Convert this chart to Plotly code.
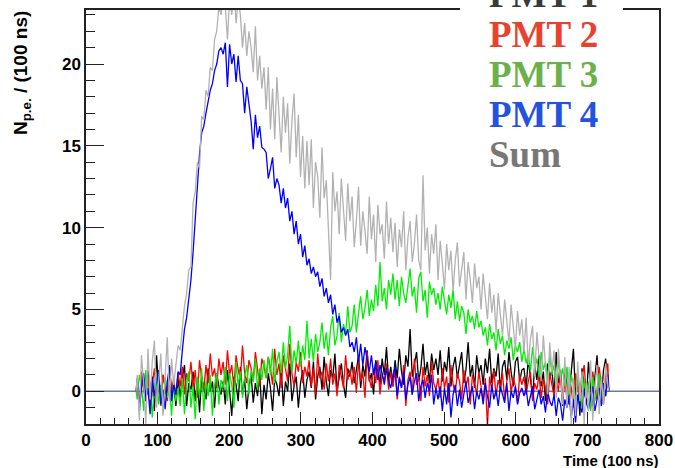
import numpy as np
import plotly.graph_objects as go

# Bin edges of the waveform histograms (time in units of 100 ns, 3-unit bins)
edges = list(range(70, 731, 3))

pmt1 = [
    0.4, -1.0, 0.9, 0.2, -0.6, 1.3, -0.3, 0.6, -1.2, 2.2, 0.1, -0.7, 1.0, 0.3, -0.5, 1.6, -0.2, 0.5, -0.9, 0.8,
    -0.4, 0.8, 1.6, -0.9, 0.5, 0.1, 1.2, -0.6, 0.7, -1.3, 0.9, 0.2, -0.5, 1.4, 0.0, 0.6, -1.0, 1.1, 0.3, -0.2,
    0.6, -0.8, 1.3, 0.0, -1.5, 0.9, 0.4, -0.6, 1.5, -0.2, 0.7, -1.1, 0.3, 1.0, -0.7, 0.5, -0.3, 1.2, -1.4, 0.4,
    -0.5, 1.1, 0.2, -1.2, 0.8, 0.4, -0.3, 1.4, -0.9, 0.6, 0.0, 1.7, -0.6, 0.3, 0.9, -1.0, 0.5, 1.3, -0.4, 0.7,
    1.2, 0.2, 1.8, -0.5, 0.9, 1.5, 0.1, 2.1, 0.6, -0.3, 1.3, 0.8, 2.3, 0.0, 1.0, 1.7, 0.4, -0.4, 1.4, 0.9,
    1.8, 0.5, 1.3, 2.2, 0.2, 1.6, 0.9, 2.5, 0.6, 1.1, -0.2, 1.9, 1.3, 0.4, 2.0, 1.0, 2.7, 0.7, 1.5, 0.3,
    1.9, 0.8, 2.6, 1.2, 0.4, 2.2, 1.5, 3.8, 0.9, 1.7, 2.4, 0.6, 1.4, 2.9, 1.0, 1.8, 0.5, 2.3, 1.3, 2.0,
    1.0, 2.5, 0.6, 1.8, 1.2, 2.7, 0.3, 1.5, 2.1, 0.8, 1.7, 2.4, 0.5, 1.3, 3.0, 0.9, 1.6, 0.2, 2.2, 1.1,
    1.6, 0.4, 2.0, 1.1, 2.6, 0.5, 1.4, 0.9, 2.3, 0.0, 1.5, 1.9, 0.7, 2.4, 1.2, 0.3, 1.8, 2.1, 0.6, 1.3,
    1.4, 0.2, 2.0, 0.9, -0.4, 1.6, 0.7, 2.2, 0.3, 1.2, -0.6, 1.7, 0.8, 1.3, -0.2, 2.4, 0.5, 1.0, -0.9, 1.5,
    0.3, -0.8, 1.2, 2.6, -0.3, 0.7, -1.5, 1.4, 0.2, -0.7, 1.8, 0.5, -1.2, 0.9, 2.2, 0.0, -0.5, 1.3, 2.0, 0.6,
]

pmt2 = [
    0.6, -0.8, 1.2, 0.1, -0.5, 0.9, -1.0, 0.4, 1.4, -0.3, 0.7, -0.9, 1.0, 0.2, -0.6, 1.5, 0.0, 0.8, -0.4, 1.1,
    0.3, 1.5, -0.2, 1.1, 0.6, 1.8, 0.2, 1.3, -0.4, 1.9, 0.8, 0.1, 1.6, 0.5, 2.3, 0.9, 1.4, 0.2, 2.0, 1.0,
    1.8, 0.4, 2.5, 1.0, 1.6, 0.2, 2.2, 1.3, 0.7, 2.8, 1.1, 0.5, 1.9, 1.4, 0.6, 2.4, 1.2, 0.3, 2.0, 1.5,
    0.8, 2.1, 1.4, 0.4, 2.6, 1.0, 1.7, 0.2, 2.2, 1.3, 0.6, 2.9, 1.1, 0.3, 1.8, 1.2, 2.4, 0.5, 1.5, 0.9,
    1.9, 0.3, 1.4, -0.2, 2.3, 0.8, 1.2, 0.1, 1.7, 0.6, 2.0, 0.4, 1.1, -0.3, 1.6, 0.9, 0.2, 2.2, 0.7, 1.3,
    0.4, 1.5, -0.1, 1.8, 0.6, 1.1, -0.4, 2.4, 0.8, 0.2, 1.4, 0.5, 1.9, -0.2, 1.0, 0.6, 1.7, 0.1, 1.2, 0.3,
    1.3, -0.5, 0.9, 0.2, 1.6, -0.9, 0.7, 1.2, -0.2, 2.0, 0.4, 0.9, -0.6, 1.5, 0.3, 1.0, -0.3, 1.8, 0.5, 0.1,
    0.8, -0.4, 1.4, 0.2, 0.9, -0.7, 1.6, 0.4, -0.1, 1.1, 0.6, -0.5, 1.3, 0.3, 0.9, -0.8, 1.0, 0.5, -0.2, 1.2,
    0.3, -0.6, 0.8, -2.2, 0.9, 0.1, 1.3, -0.3, 0.7, 0.2, 1.1, -0.5, 0.6, 1.4, -0.1, 0.8, 0.3, -0.7, 1.0, 0.4,
    0.9, -0.2, 0.6, 1.2, -0.6, 0.5, 0.1, 1.0, -0.4, 0.7, 0.2, -0.8, 1.1, 0.4, -0.3, 0.8, 0.0, 1.3, -0.5, 0.6,
    -0.4, 0.9, 0.2, -1.0, 1.1, 0.3, -0.6, 0.8, 1.6, -0.2, 0.5, -0.9, 1.2, 0.1, -0.5, 1.5, 0.4, -0.8, 0.9, 1.7,
]

pmt3 = [
    -0.5, 1.0, 0.3, -1.2, 1.3, -0.2, 0.6, -1.6, 0.2, 1.1, -0.8, 0.4, -1.3, 0.9, -0.4, 0.3, -1.5, 0.7, -0.6, 0.2,
    -0.9, 0.8, -1.4, 0.5, 1.2, -1.0, 0.3, -1.7, 0.9, -0.4, 1.4, -1.2, 0.6, -0.3, 1.0, -1.5, 0.4, 1.1, -0.8, 0.7,
    0.2, 1.5, -0.6, 1.1, 0.4, -1.0, 1.8, 0.3, 1.2, -0.4, 0.9, 1.6, -0.2, 1.3, 0.6, 2.0, 0.1, 1.4, 0.7, 1.9,
    0.8, 2.1, 1.0, 2.6, 0.5, 1.8, 2.4, 1.1, 3.0, 1.4, 2.2, 4.0, 1.2, 2.5, 1.7, 3.1, 1.5, 2.8, 1.9, 4.3,
    2.0, 3.2, 1.8, 3.5, 2.4, 3.0, 4.2, 2.6, 3.6, 2.2, 3.9, 4.6, 2.8, 3.4, 4.8, 3.0, 4.1, 3.5, 5.2, 3.6,
    4.0, 5.3, 3.6, 4.8, 5.8, 4.4, 5.1, 6.2, 4.6, 5.6, 4.9, 6.5, 5.2, 7.9, 5.5, 6.3, 5.0, 6.8, 5.9, 7.2,
    5.6, 6.8, 5.2, 7.0, 6.0, 5.4, 6.6, 7.5, 5.8, 6.4, 4.8, 6.9, 7.3, 5.5, 6.2, 4.5, 6.7, 5.9, 6.3, 5.3,
    6.0, 5.0, 6.4, 5.4, 4.7, 5.9, 5.1, 6.2, 4.4, 5.5, 4.3, 5.2, 4.8, 3.5, 5.0, 4.2, 4.6, 3.8, 4.9, 3.9,
    4.3, 3.4, 3.9, 2.8, 4.1, 3.2, 3.6, 2.5, 3.8, 2.9, 3.4, 2.2, 3.1, 2.6, 3.3, 1.9, 2.8, 2.4, 3.0, 1.8,
    2.6, 1.7, 2.3, 1.2, 2.7, 1.5, 2.0, 0.9, 2.4, 1.3, 1.8, 0.7, 2.2, 1.0, 1.6, 0.4, 1.9, 0.8, 1.4, 0.3,
    1.5, -0.2, 1.0, 0.4, -0.8, 1.2, 0.1, -1.0, 0.8, -0.4, 0.6, -1.2, 0.9, -0.6, 0.2, 1.1, -0.9, 0.5, -0.3, 0.7,
]

pmt4 = [
    0.8, -1.2, 0.3, 1.1, -0.5, 0.2, -1.4, 0.9, -0.3, 0.5, 1.3, -0.8, 0.1, -1.1, 0.6, 1.5, -0.6, 0.4, -0.2, 1.2,
    1.0, 2.5, 3.8, 4.5, 5.6, 6.8, 8.5, 10.5, 13.0, 14.5, 15.8, 16.2, 17.0, 17.8, 18.4, 18.8, 19.6, 20.0, 20.8, 21.0,
    20.6, 21.3, 18.6, 21.2, 20.0, 20.6, 18.9, 20.5, 19.0, 18.8, 17.0, 18.6, 17.4, 16.5, 14.8, 16.9, 15.5, 16.2, 14.9, 14.8,
    14.6, 13.0, 13.6, 14.3, 12.4, 13.0, 12.6, 11.5, 12.4, 11.2, 11.8, 10.4, 11.0, 9.6, 10.4, 9.0, 9.6, 8.2, 8.9, 7.7,
    8.1, 7.2, 7.6, 7.0, 7.3, 6.4, 6.9, 5.8, 6.3, 5.4, 5.9, 4.7, 5.3, 4.2, 4.6, 3.6, 3.9, 3.4, 3.8, 2.7,
    3.0, 2.4, 3.3, 1.8, 2.9, 1.6, 2.7, 2.0, 1.2, 2.2, 1.0, 1.8, 0.7, 1.6, 1.1, 0.4, 1.4, 0.6, 0.2, 1.0,
    1.5, -0.3, 0.8, 0.2, 1.2, -0.5, 0.4, 0.9, -0.2, 0.6, 1.1, -0.6, 0.3, 0.7, -0.4, 0.5, 0.0, 1.0, -0.8, 0.2,
    -0.5, 0.3, -1.2, 0.2, -0.8, 0.5, -1.6, -0.2, 0.4, -0.9, 0.1, -1.0, -0.3, 0.6, -0.7, -0.2, 0.3, -1.1, 0.0, -0.5,
    0.2, -0.8, 0.5, -0.3, -1.0, 0.4, -0.5, 0.1, -0.9, 0.3, -0.2, -0.7, 0.5, -1.2, 0.0, -0.4, 0.3, -0.8, -0.1, 0.2,
    -0.3, 0.2, -0.9, -0.2, 0.3, -1.1, -0.5, 0.1, -0.8, -0.3, -1.3, 0.0, -0.6, -0.9, -0.2, -1.5, -0.4, -0.8, -1.8, -0.5,
    -1.0, -0.3, -1.6, -0.5, -1.9, -0.2, -0.9, -1.3, 0.1, -0.7, -1.1, -0.4, 0.3, -1.2, -0.6, 0.2, -0.9, 0.5, -0.3, 1.0,
]

pmt_sum = [
    1.0, -1.8, 2.2, 0.5, -2.0, 2.6, -0.5, 1.8, 3.1, -1.0, 0.8, 2.3, -1.5, 1.2, 3.3, -0.6, 2.0, 0.4, 1.5, 2.8,
    2.5, 4.0, 5.2, 6.0, 7.4, 7.6, 11.5, 12.2, 14.0, 13.6, 16.8, 16.6, 18.4, 18.0, 19.8, 19.6, 21.5, 22.0, 23.5, 23.0,
    24.0, 23.5, 21.5, 24.0, 23.0, 24.5, 22.5, 24.0, 23.0, 21.0, 22.5, 20.5, 22.0, 21.0, 19.5, 22.3, 19.0, 20.5, 18.5, 19.8,
    17.2, 19.8, 16.0, 18.5, 15.4, 19.2, 16.8, 14.6, 18.0, 15.8, 17.6, 13.9, 16.5, 18.2, 14.3, 16.9, 13.1, 15.6, 12.4, 15.3,
    12.6, 15.4, 11.2, 14.0, 13.1, 10.6, 14.9, 11.8, 12.9, 10.2, 6.8, 13.4, 11.0, 12.2, 9.6, 13.0, 10.8, 9.2, 12.7, 10.4,
    11.9, 8.8, 10.4, 12.5, 8.9, 11.0, 9.8, 8.4, 11.9, 9.3, 10.8, 7.9, 11.4, 9.6, 10.2, 8.1, 11.6, 9.0, 10.6, 8.5,
    10.3, 7.6, 9.9, 8.8, 11.0, 7.4, 9.4, 10.4, 7.9, 9.0, 10.8, 8.0, 7.4, 13.2, 8.6, 10.0, 7.2, 9.6, 8.4, 10.2,
    6.8, 9.2, 7.8, 6.2, 9.0, 7.4, 8.6, 6.1, 8.0, 9.1, 6.4, 7.6, 8.5, 5.6, 7.9, 6.8, 5.4, 7.8, 6.3, 7.0,
    5.0, 7.2, 5.8, 4.4, 6.6, 4.8, 5.9, 3.6, 6.0, 4.5, 3.4, 5.6, 4.1, 3.0, 5.3, 3.8, 2.6, 4.9, 3.4, 4.4,
    2.4, 4.5, 1.6, 3.2, 4.0, 0.9, 3.6, 2.1, 0.6, 3.4, 1.8, -0.2, 3.0, 1.2, 2.5, -0.4, 2.6, 1.0, -0.8, 2.1,
    -1.0, 1.5, -2.0, 0.8, -1.5, 1.8, -0.6, 1.2, -2.0, 0.5, -1.2, 1.9, -1.8, 0.3, 1.6, -1.4, 0.9, -0.8, 1.7, 0.4,
]

series_names = ["PMT 1", "PMT 2", "PMT 3", "PMT 4", "Sum"]
series_values = [pmt1, pmt2, pmt3, pmt4, pmt_sum]
line_colors = ["#000000", "#ff0000", "#00ee00", "#0000ff", "#b2b2b2"]
label_colors = ["#3a3a3a", "#e8412e", "#6cb04a", "#2352e0", "#777777"]

x_range = [0, 800]
y_range = [-2, 23.3]

fig = go.Figure()

# empty-region baseline at zero
fig.add_trace(go.Scatter(x=x_range, y=[0, 0], mode="lines",
                         line=dict(color="#6a7a9c", width=1.6),
                         hoverinfo="skip", showlegend=False))

for name, vals, col in zip(series_names, series_values, line_colors):
    assert len(vals) == len(edges) - 1
    centers = [e + 1.5 for e in edges[:-1]]
    xs = [edges[0]] + centers + [edges[-1]]
    ys = [0] + list(vals) + [0]
    fig.add_trace(go.Scatter(x=xs, y=ys, mode="lines", name=name,
                             line=dict(color=col, width=1.3),
                             showlegend=False))

tick_font = dict(family="Liberation Sans", size=17, color="black", weight="bold")

fig.update_layout(
    width=675, height=468,
    margin=dict(l=86, r=16, t=10, b=44, autoexpand=False),
    paper_bgcolor="white", plot_bgcolor="white",
    xaxis=dict(range=x_range, tick0=0, dtick=100, ticks="inside", ticklen=12,
               tickcolor="#222", tickwidth=1.2, automargin=False,
               minor=dict(dtick=20, ticks="inside", ticklen=6, tickcolor="#222", tickwidth=1.2),
               showline=True, linecolor="#222", linewidth=1.5, mirror=True,
               showgrid=False, zeroline=False, tickfont=tick_font),
    yaxis=dict(range=y_range, tick0=0, dtick=5, ticks="inside", ticklen=18,
               tickcolor="#222", tickwidth=1.2, automargin=False,
               minor=dict(dtick=1, ticks="inside", ticklen=9, tickcolor="#222", tickwidth=1.2),
               showline=True, linecolor="#222", linewidth=1.5, mirror=True,
               showgrid=False, zeroline=False, tickfont=tick_font),
    showlegend=False,
)

# white panel behind the legend text
fig.add_shape(type="rect", xref="paper", yref="paper",
              x0=(460 - 86) / 573, x1=(623 - 86) / 573,
              y0=(424 - 178) / 414, y1=1.05,
              fillcolor="white", line=dict(width=0), layer="above")

for i, (name, col) in enumerate(zip(series_names, label_colors)):
    cy = 7 + 40 * i - 13
    fig.add_annotation(text=name, xref="paper", yref="paper",
                       x=(487 - 86) / 573, y=(424 - cy) / 414,
                       xanchor="left", yanchor="middle", showarrow=False,
                       font=dict(family="Liberation Serif", size=37, color=col, weight="bold"))

# axis titles
fig.add_annotation(text="N<sub>p.e.</sub> / (100 ns)", xref="paper", yref="paper",
                   x=(22 - 86) / 573, y=(424 - 73) / 414, textangle=-90,
                   xanchor="center", yanchor="middle", showarrow=False,
                   font=dict(family="Liberation Sans", size=19, color="black", weight="bold"))
fig.add_annotation(text="Time (100 ns)", xref="paper", yref="paper",
                   x=(661 - 86) / 573, y=(424 - 460) / 414,
                   xanchor="right", yanchor="middle", showarrow=False,
                   font=dict(family="Liberation Sans", size=15, color="black", weight="bold"))

fig.write_html("out.html")
